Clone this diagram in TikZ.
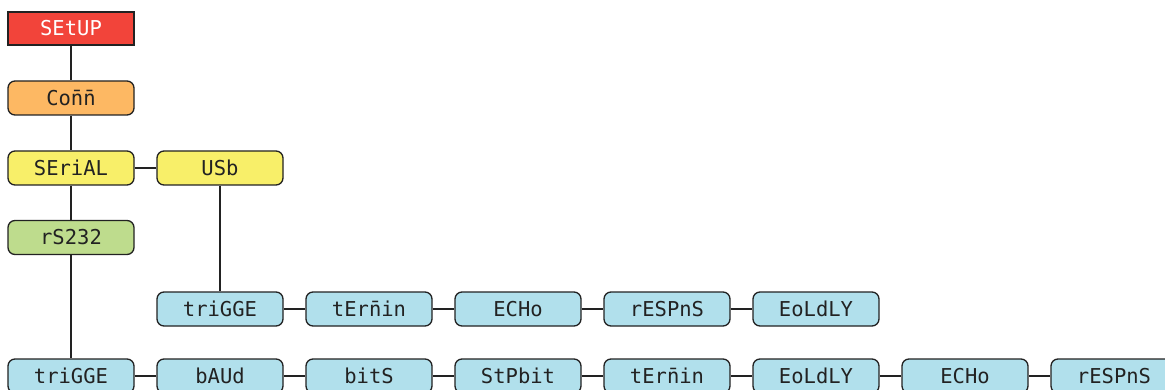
\documentclass[tikz,border=0pt]{standalone}
\usepackage{fontspec}
\newfontfamily\segfont{DejaVu Sans Mono}
\definecolor{cred}{HTML}{F2443A}
\definecolor{corange}{HTML}{FDB863}
\definecolor{cyellow}{HTML}{F8EF69}
\definecolor{cgreen}{HTML}{BEDC8D}
\definecolor{cblue}{HTML}{B1E0EC}
\definecolor{linec}{HTML}{222222}
\tikzset{
  menubox/.style={draw=linec, line width=1.3pt, rounded corners=7pt,
    minimum width=126pt, minimum height=34pt, inner sep=0pt,
    font=\segfont\fontsize{20.5}{20.5}\selectfont, text=linec},
  topbox/.style={menubox, rounded corners=0pt, fill=cred, text=white, line width=1.6pt, minimum height=33pt},
  orangebox/.style={menubox, fill=corange},
  yellowbox/.style={menubox, fill=cyellow},
  greenbox/.style={menubox, fill=cgreen},
  bluebox/.style={menubox, fill=cblue},
  link/.style={draw=linec, line width=1.1pt}
}
\begin{document}
\begin{tikzpicture}[x=1pt,y=-1pt]
\clip (0,0) rectangle (1165,390);
\node[topbox] (setup) at (71,28.5) {SEtUP};
\node[orangebox] (comm) at (71,98) {Con̄n̄};
\node[yellowbox] (serial) at (71,168) {SEriAL};
\node[yellowbox] (usb) at (220,168) {USb};
\node[greenbox] (rs232) at (71,237.5) {rS232};
% upper row (USB)
\node[bluebox] (u1) at (220,309) {triGGE};
\node[bluebox] (u2) at (369,309) {tErn̄in};
\node[bluebox] (u3) at (518,309) {ECHo};
\node[bluebox] (u4) at (667,309) {rESPnS};
\node[bluebox] (u5) at (816,309) {EoLdLY};
% bottom row (RS232)
\node[bluebox] (b1) at (71,376) {triGGE};
\node[bluebox] (b2) at (220,376) {bAUd};
\node[bluebox] (b3) at (369,376) {bitS};
\node[bluebox] (b4) at (518,376) {StPbit};
\node[bluebox] (b5) at (667,376) {tErn̄in};
\node[bluebox] (b6) at (816,376) {EoLdLY};
\node[bluebox] (b7) at (965,376) {ECHo};
\node[bluebox] (b8) at (1114,376) {rESPnS};
% connectors
\draw[link] (setup) -- (comm);
\draw[link] (comm) -- (serial);
\draw[link] (serial) -- (rs232);
\draw[link] (rs232) -- (b1);
\draw[link] (serial) -- (usb);
\draw[link] (usb) -- (u1);
\draw[link] (u1) -- (u2);
\draw[link] (u2) -- (u3);
\draw[link] (u3) -- (u4);
\draw[link] (u4) -- (u5);
\draw[link] (b1) -- (b2);
\draw[link] (b2) -- (b3);
\draw[link] (b3) -- (b4);
\draw[link] (b4) -- (b5);
\draw[link] (b5) -- (b6);
\draw[link] (b6) -- (b7);
\draw[link] (b7) -- (b8);
\end{tikzpicture}
\end{document}
